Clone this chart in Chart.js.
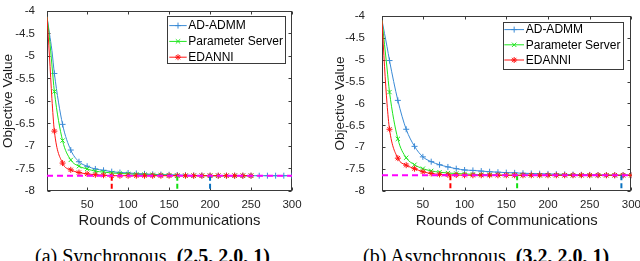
<!DOCTYPE html>
<html><head><meta charset="utf-8">
<script src="https://cdn.jsdelivr.net/npm/chart.js@4.4.1/dist/chart.umd.min.js"></script>
<style>
html,body{margin:0;padding:0;background:#fff;}
#wrap{position:relative;width:640px;height:261px;overflow:hidden;background:#fff;}
.panel{position:absolute;top:0;width:320px;height:240px;}
.cap{position:absolute;top:246px;font-family:"Liberation Serif","Times New Roman",serif;font-size:20px;line-height:20px;color:#000;white-space:nowrap;}
</style></head>
<body><div id="wrap">
<div class="panel" style="left:0"><canvas id="c1" width="320" height="240"></canvas></div>
<div class="panel" style="left:320px"><canvas id="c2" width="320" height="240"></canvas></div>
<div class="cap" style="left:35px">(a) Synchronous, <b>(2.5, 2.0, 1)</b></div>
<div class="cap" style="left:363px">(b) Asynchronous, <b>(3.2, 2.0, 1)</b></div>
</div>
<script>
// ---- data ----
const rounds = [1,4,7,10,20,30,40,50,60,70,80,90,100,110,120,130,140,150,160,170,180,190,200,210,220,230,240,250,260,270,280,290,300];
const seriesNames = ['AD-ADMM','Parameter Server','EDANNI'];
const xTicks = [50,100,150,200,250,300];
const yRange = [-8,-4];
const yStep = 0.5;

// (a) Synchronous
const syncAdAdmm = [-4.13,-4.50,-4.88,-5.39,-6.52,-7.09,-7.35,-7.45,-7.51,-7.54,-7.57,-7.59,-7.60,-7.61,-7.62,-7.63,-7.635,-7.64,-7.645,-7.65,-7.655,-7.655,-7.66,-7.66,-7.66,-7.66,-7.66,-7.66,-7.66,-7.66,-7.66,-7.66,-7.66];
const syncParamServer = [-4.13,-4.60,-5.20,-5.79,-6.88,-7.31,-7.45,-7.51,-7.56,-7.58,-7.60,-7.61,-7.62,-7.63,-7.635,-7.64,-7.645,-7.65,-7.655,-7.66,-7.66,-7.66,-7.66,-7.66,-7.66,-7.66,-7.66,-7.66,null,null,null,null,null];
const syncEdanni = [-4.13,-5.00,-5.95,-6.67,-7.38,-7.53,-7.59,-7.62,-7.64,-7.65,-7.66,-7.66,-7.66,-7.66,-7.66,-7.66,-7.66,-7.66,-7.66,-7.66,-7.66,-7.66,-7.66,-7.66,-7.66,-7.66,-7.66,-7.66,null,null,null,null,null];
const syncOptimum = -7.66;
const syncReachedRound = [200,160,80]; // AD-ADMM, Parameter Server, EDANNI

// (b) Asynchronous
const asyncAdAdmm = [-4.10,-4.40,-4.70,-5.02,-5.93,-6.59,-6.98,-7.22,-7.33,-7.40,-7.45,-7.49,-7.52,-7.53,-7.545,-7.56,-7.57,-7.58,-7.585,-7.595,-7.60,-7.605,-7.61,-7.615,-7.62,-7.625,-7.63,-7.632,-7.635,-7.637,-7.64,-7.64,-7.64];
const asyncParamServer = [-4.10,-4.65,-5.19,-5.74,-6.81,-7.24,-7.40,-7.49,-7.54,-7.57,-7.59,-7.60,-7.61,-7.62,-7.625,-7.63,-7.635,-7.64,-7.64,-7.64,-7.64,-7.64,-7.64,-7.64,-7.64,-7.64,-7.64,-7.64,-7.64,-7.64,-7.64,-7.64,-7.64];
const asyncEdanni = [-4.10,-5.15,-6.00,-6.59,-7.25,-7.41,-7.49,-7.56,-7.60,-7.62,-7.63,-7.635,-7.64,-7.64,-7.64,-7.64,-7.64,-7.64,-7.64,-7.64,-7.64,-7.64,-7.64,-7.64,-7.64,-7.64,-7.64,-7.64,-7.64,-7.64,-7.64,-7.64,-7.64];
const asyncOptimum = -7.64;
const asyncReachedRound = [288,163,83];

// ---- styling ----
const FONT = '"Liberation Sans", Arial, Helvetica, sans-serif';
Chart.defaults.font.family = FONT;
const seriesColors = ['#3a8ad6','#1ee61e','#ff1414'];
const stopColors = ['#0a72c0','#10e010','#ff0000'];
const markerStyles = ['cross','crossRot','star'];

function drawMarker(ctx, style, x, y, r) {
  ctx.beginPath();
  if (style === 'cross' || style === 'star') {
    ctx.moveTo(x - r, y); ctx.lineTo(x + r, y);
    ctx.moveTo(x, y - r); ctx.lineTo(x, y + r);
  }
  if (style === 'crossRot' || style === 'star') {
    const d = r * 0.72;
    ctx.moveTo(x - d, y - d); ctx.lineTo(x + d, y + d);
    ctx.moveTo(x - d, y + d); ctx.lineTo(x + d, y - d);
  }
  ctx.stroke();
}

const framePlugin = {
  id: 'mframe',
  beforeDatasetsDraw(chart) {
    const {ctx, chartArea: a, scales} = chart;
    const x = scales.x, y = scales.y;
    ctx.save();
    ctx.strokeStyle = '#3a3a3a';
    ctx.lineWidth = 1;
    const L = Math.round(a.left) + 0.5, R = Math.round(a.right) - 0.5;
    const T = Math.round(a.top) + 0.5, B = Math.round(a.bottom) - 0.5;
    ctx.strokeRect(L, T, R - L, B - T);
    ctx.beginPath();
    x.ticks.forEach(t => {
      const px = Math.round(x.getPixelForValue(t.value)) + 0.5;
      ctx.moveTo(px, B); ctx.lineTo(px, B - 3);
      ctx.moveTo(px, T); ctx.lineTo(px, T + 3);
    });
    y.ticks.forEach(t => {
      const py = Math.round(y.getPixelForValue(t.value)) + 0.5;
      ctx.moveTo(L, py); ctx.lineTo(L + 3, py);
      ctx.moveTo(R, py); ctx.lineTo(R - 3, py);
    });
    ctx.stroke();
    ctx.restore();
  }
};

const legendPlugin = {
  id: 'mlegend',
  afterDraw(chart, args, o) {
    const {ctx, chartArea: a} = chart;
    const ds = chart.data.datasets.filter(d => d.inLegend);
    const left = a.right - o.rightGap - o.width;
    const top = a.top + o.topGap;
    ctx.save();
    ctx.fillStyle = '#fff';
    ctx.fillRect(left, top, o.width, o.height);
    ctx.strokeStyle = '#3a3a3a';
    ctx.lineWidth = 1;
    ctx.strokeRect(Math.round(left) + 0.5, Math.round(top) + 0.5, Math.round(o.width), Math.round(o.height));
    ds.forEach((d, i) => {
      const yy = top + o.row0 + i * o.rowStep;
      ctx.strokeStyle = d.borderColor;
      ctx.lineWidth = 1;
      ctx.beginPath();
      ctx.moveTo(left + o.lineX, yy); ctx.lineTo(left + o.lineX + o.lineLen, yy);
      ctx.stroke();
      drawMarker(ctx, d.pointStyle, left + o.lineX + o.lineLen / 2, yy, 3);
      ctx.fillStyle = '#000';
      ctx.font = '12px ' + FONT;
      ctx.textBaseline = 'middle';
      ctx.textAlign = 'left';
      ctx.fillText(d.label, left + o.textX, yy + 0.5);
    });
    ctx.restore();
  }
};

function makeChart(id, values, optimum, reached, L) {
  const datasets = [];
  values.forEach((arr, k) => {
    datasets.push({
      label: seriesNames[k],
      inLegend: true,
      data: rounds.map((r, i) => ({x: r, y: arr[i]})),
      borderColor: seriesColors[k],
      backgroundColor: seriesColors[k],
      borderWidth: 1,
      pointStyle: markerStyles[k],
      pointRadius: c => (c.raw && c.raw.x >= 10 && c.raw.y !== null) ? 3 : 0,
      pointBorderWidth: 1,
      pointBorderColor: seriesColors[k],
      cubicInterpolationMode: 'monotone',
      spanGaps: false,
      order: 3 - k
    });
  });
  datasets.push({
    label: 'optimum',
    data: [{x: rounds[0], y: optimum}, {x: rounds[rounds.length - 1], y: optimum}],
    borderColor: '#ff00ff', borderWidth: 2, borderDash: [6, 4],
    pointRadius: 0, order: 0
  });
  reached.forEach((r, k) => {
    datasets.push({
      label: 'reached ' + seriesNames[k],
      data: [{x: r, y: optimum}, {x: r, y: yRange[0]}],
      borderColor: stopColors[k], borderWidth: 2, borderDash: [5, 3],
      pointRadius: 0, order: 0
    });
  });
  return new Chart(document.getElementById(id), {
    type: 'line',
    data: {datasets},
    options: {
      responsive: false, animation: false, devicePixelRatio: 1,
      layout: {padding: {left: 0, right: L.padRight, top: 7, bottom: 0}},
      plugins: {
        legend: {display: false}, tooltip: {enabled: false},
        mlegend: L.legend
      },
      scales: {
        x: {
          type: 'linear', min: 1, max: 300,
          grid: {display: false}, border: {display: false},
          afterBuildTicks: s => { s.ticks = xTicks.map(v => ({value: v})); },
          afterFit: s => { s.height = 49; },
          ticks: {color: '#262626', font: {size: 11.5}, padding: -1, maxRotation: 0, autoSkip: false},
          title: {display: true, text: 'Rounds of Communications', color: '#1a1a1a', font: {size: 14.8}, padding: {top: 0, bottom: 10}}
        },
        y: {
          type: 'linear', min: yRange[0], max: yRange[1],
          grid: {display: false}, border: {display: false},
          afterFit: s => { s.width = L.yWidth; },
          ticks: {stepSize: yStep, color: '#262626', font: {size: 11.5}, padding: L.yPad, callback: v => String(v)},
          title: {display: true, text: 'Objective Value', color: '#1a1a1a', font: {size: 13.6}, padding: {top: L.yTitlePad, bottom: 0}}
        }
      }
    },
    plugins: [framePlugin, legendPlugin]
  });
}

makeChart('c1', [syncAdAdmm, syncParamServer, syncEdanni], syncOptimum, syncReachedRound, {
  padRight: 28, yWidth: 47, yPad: 4, yTitlePad: 0.3,
  legend: {width: 118, height: 47, rightGap: 7, topGap: 5, row0: 9.7, rowStep: 15.8, lineX: 2.3, lineLen: 17.4, textX: 21.3}
});
makeChart('c2', [asyncAdAdmm, asyncParamServer, asyncEdanni], asyncOptimum, asyncReachedRound, {
  padRight: 8, yWidth: 62, yPad: 9, yTitlePad: 11.8,
  legend: {width: 120, height: 46.5, rightGap: 8.7, topGap: 5.7, row0: 8, rowStep: 15.2, lineX: 1.6, lineLen: 19.7, textX: 23}
});
</script>
</body></html>
